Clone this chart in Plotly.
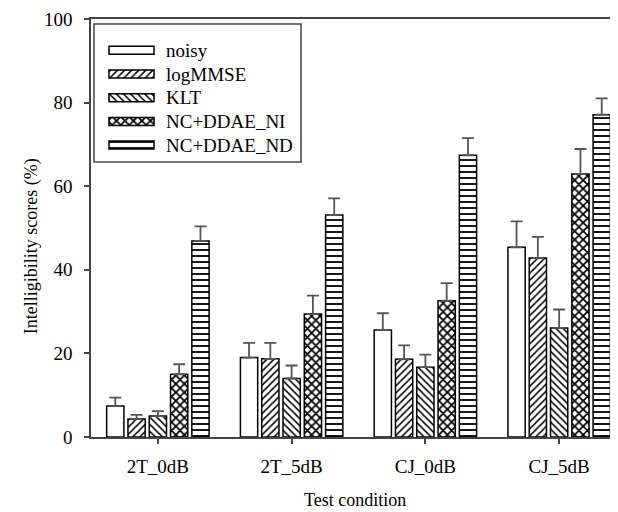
import plotly.graph_objects as go

categories = ["2T_0dB", "2T_5dB", "CJ_0dB", "CJ_5dB"]
series_names = ["noisy", "logMMSE", "KLT", "NC+DDAE_NI", "NC+DDAE_ND"]
noisy = [7.4, 19.0, 25.6, 45.4]
logmmse = [4.3, 18.7, 18.6, 42.8]
klt = [5.0, 14.0, 16.7, 26.1]
nc_ni = [15.0, 29.4, 32.6, 62.9]
nc_nd = [46.9, 53.1, 67.4, 77.1]
noisy_hi = [9.4, 22.5, 29.6, 51.6]
logmmse_hi = [5.3, 22.5, 21.9, 47.9]
klt_hi = [6.2, 17.1, 19.7, 30.5]
nc_ni_hi = [17.4, 33.8, 36.8, 68.9]
nc_nd_hi = [50.4, 57.1, 71.5, 81.0]
y_ticks = [0, 20, 40, 60, 80, 100]

values = [noisy, logmmse, klt, nc_ni, nc_nd]
uppers = [noisy_hi, logmmse_hi, klt_hi, nc_ni_hi, nc_nd_hi]
patterns = [dict(shape=""), dict(shape="/", size=5, solidity=0.3),
            dict(shape="\\", size=5, solidity=0.3), dict(shape="x", size=6, solidity=0.5),
            dict(shape="-", size=6, solidity=0.3)]

FONT = "Liberation Serif"
OFF = 8  # default page body margin
W, H = 618 - OFF, 512 - OFF
# plot area in page pixels: x 91..618, y 19..437
ML, MR, MT, MB = 91 - OFF, 0, 19 - OFF, 512 - 437
PX0, PX1, PY0, PY1 = 91, 618, 19, 437

fig = go.Figure()
for name, v, hi, pat in zip(series_names, values, uppers, patterns):
    p = dict(pat)
    p.update(fgcolor="black", bgcolor="white", fillmode="replace")
    fig.add_trace(go.Bar(
        x=categories, y=v, name=name, showlegend=False,
        marker=dict(color="white", line=dict(color="black", width=1.5), pattern=p),
        error_y=dict(type="data", symmetric=False,
                     array=[h - a for h, a in zip(hi, v)],
                     arrayminus=[0] * len(v), color="#555", thickness=1.8, width=6),
    ))

# legend drawn on an overlay axis in page-pixel units
leg_x0, leg_y0, row_h = 109, 50.3, 23.7
for i, (name, pat) in enumerate(zip(series_names, patterns)):
    p = dict(pat)
    p.update(fgcolor="black", bgcolor="white", fillmode="replace")
    yc = leg_y0 + i * row_h
    fig.add_trace(go.Bar(
        x=[45], y=[yc], base=[leg_x0], orientation="h", width=8, offset=-4,
        xaxis="x2", yaxis="y2", showlegend=False, hoverinfo="skip",
        marker=dict(color="white", line=dict(color="black", width=1.5), pattern=p),
    ))
    fig.add_annotation(x=164, y=yc, xref="x2", yref="y2", text=name, showarrow=False,
                       xanchor="left", yanchor="middle",
                       font=dict(family=FONT, size=19, color="black"))
fig.add_shape(type="rect", xref="x2", yref="y2", x0=94, x1=301, y0=24, y1=162,
              line=dict(color="#444", width=1.5), fillcolor="rgba(0,0,0,0)")

# axis titles
fig.add_annotation(x=(354.5 - PX0) / (PX1 - PX0), y=(PY1 - 500) / (PY1 - PY0),
                   xref="paper", yref="paper",
                   text="Test condition", showarrow=False, xanchor="center", yanchor="middle",
                   font=dict(family=FONT, size=18, color="black"))
fig.add_annotation(x=(31.7 - PX0) / (PX1 - PX0), y=(PY1 - 246.5) / (PY1 - PY0),
                   xref="paper", yref="paper",
                   text="Intelligibility scores (%)", showarrow=False, textangle=-90,
                   xanchor="center", yanchor="middle",
                   font=dict(family=FONT, size=18, color="black"))

fig.update_layout(
    width=W, height=H,
    margin=dict(l=ML, r=MR, t=MT, b=MB, autoexpand=False),
    paper_bgcolor="white", plot_bgcolor="white",
    barmode="group", bargap=0.204, bargroupgap=0.19,
    font=dict(family=FONT, size=19, color="black"),
    xaxis=dict(type="category", range=[-0.5, 3.44], showline=True, mirror=True,
               linecolor="#444", linewidth=1.5, ticks="outside", ticklen=5,
               tickcolor="#444", tickwidth=1.5, showgrid=False, automargin=False,
               ticklabelstandoff=6),
    yaxis=dict(range=[0, 100], tickvals=y_ticks, showline=True, linecolor="#444",
               linewidth=1.5, ticks="outside", ticklen=5, tickcolor="#444", tickwidth=1.5,
               showgrid=False, zeroline=False, ticklabelstandoff=8, automargin=False),
    xaxis2=dict(overlaying="x", anchor="y2", range=[PX0, PX1], visible=False, fixedrange=True),
    yaxis2=dict(overlaying="y", anchor="x2", range=[PY1, PY0], visible=False, fixedrange=True),
)
fig.write_html("out.html")
